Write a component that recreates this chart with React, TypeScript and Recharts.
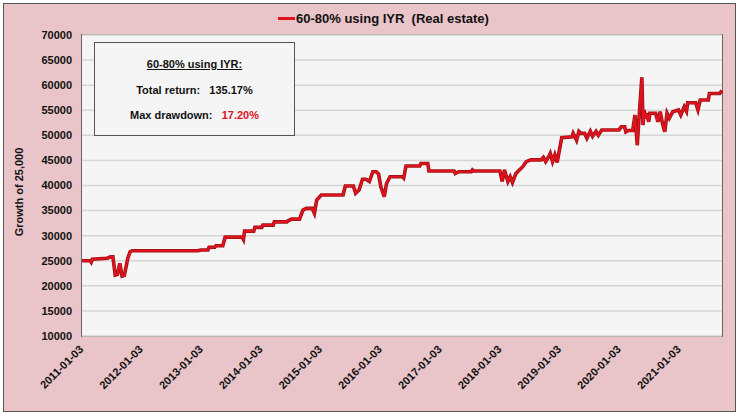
import React from 'react';
import { LineChart, Line, XAxis, YAxis, CartesianGrid } from 'recharts';

// weekly-ish closes
const dates = [
  '2011-01-03', '2011-02-21', '2011-02-28', '2011-03-07', '2011-06-06', '2011-06-27', '2011-07-11',
  '2011-07-25', '2011-08-08', '2011-08-22', '2011-09-05', '2011-09-19', '2011-10-10', '2011-10-24',
  '2011-11-07', '2012-12-10', '2012-12-31', '2013-02-11', '2013-02-18', '2013-03-25', '2013-04-01',
  '2013-05-13', '2013-05-27', '2013-09-09', '2013-09-16', '2013-09-23', '2013-11-18', '2013-11-25',
  '2014-01-06', '2014-01-13', '2014-03-17', '2014-03-24', '2014-06-09', '2014-06-16', '2014-07-07',
  '2014-08-25', '2014-09-15', '2014-10-06', '2014-11-10', '2014-11-24', '2014-12-08', '2015-01-05',
  '2015-05-18', '2015-06-01', '2015-07-20', '2015-08-03', '2015-08-24', '2015-09-14', '2015-10-05',
  '2015-10-26', '2015-11-16', '2015-12-07', '2015-12-21', '2016-01-04', '2016-01-25', '2016-02-08',
  '2016-02-29', '2016-05-16', '2016-05-23', '2016-06-06', '2016-08-29', '2016-09-05', '2016-10-17',
  '2016-10-24', '2017-03-27', '2017-04-03', '2017-04-24', '2017-07-10', '2017-07-17', '2017-07-24',
  '2018-01-01', '2018-01-15', '2018-01-29', '2018-02-19', '2018-03-05', '2018-03-19', '2018-04-09',
  '2018-04-30', '2018-05-21', '2018-06-11', '2018-07-09', '2018-09-10', '2018-09-24', '2018-10-08',
  '2018-10-29', '2018-11-05', '2018-11-19', '2018-12-03', '2018-12-17', '2019-01-14', '2019-03-18',
  '2019-03-25', '2019-04-15', '2019-04-29', '2019-05-13', '2019-06-03', '2019-06-17', '2019-07-08',
  '2019-07-22', '2019-08-12', '2019-08-26', '2019-09-16', '2019-12-30', '2020-01-13', '2020-02-03',
  '2020-02-10', '2020-02-24', '2020-03-23', '2020-04-06', '2020-04-20', '2020-04-27', '2020-05-18',
  '2020-05-25', '2020-06-01', '2020-06-08', '2020-06-15', '2020-06-29', '2020-07-06', '2020-08-10',
  '2020-08-24', '2020-09-07', '2020-09-21', '2020-10-05', '2020-10-19', '2020-11-02', '2020-11-23',
  '2020-12-28', '2021-01-11', '2021-02-01', '2021-02-15', '2021-02-22', '2021-04-12', '2021-04-26',
  '2021-05-10', '2021-06-28', '2021-07-05', '2021-09-06', '2021-09-20',
];

const growth = [
  25000, 25000, 24700, 25300, 25500, 25800, 25800,
  22150, 22300, 24500, 21950, 22100, 25500, 26800,
  27000, 27000, 27150, 27150, 27700, 27700, 28000,
  28000, 29700, 29700, 29250, 30900, 30900, 31650,
  31650, 32100, 32100, 32750, 32750, 32950, 33300,
  33300, 35100, 35450, 35450, 34450, 37100, 38100,
  38100, 39900, 39900, 38450, 39100, 41250, 41250,
  40800, 42750, 42750, 42300, 39750, 37750, 40400,
  41750, 41750, 41500, 43900, 43900, 44400, 44400,
  42900, 42900, 42400, 42750, 42750, 43100, 42900,
  42900, 40800, 43100, 40800, 41750, 40600, 42400,
  43100, 43750, 44750, 45100, 45100, 45600, 44750,
  45900, 46400, 44750, 46100, 44600, 49550, 49700,
  50400, 49000, 50800, 50400, 50400, 49400, 50800,
  49800, 50800, 50000, 51050, 51050, 51700, 51700,
  50700, 50950, 50950, 54050, 48050, 51700, 61550,
  52050, 55050, 53400, 54400, 52700, 54400, 54400,
  52700, 54700, 52400, 50700, 54400, 53400, 54700,
  55050, 54050, 55700, 54800, 56500, 56500, 55050,
  57050, 57050, 58350, 58350, 58900,
];

const xTickLabels = [
  '2011-01-03', '2012-01-03', '2013-01-03', '2014-01-03', '2015-01-03', '2016-01-03',
  '2017-01-03', '2018-01-03', '2019-01-03', '2020-01-03', '2021-01-03',
];
const yTicks = [10000, 15000, 20000, 25000, 30000, 35000, 40000, 45000, 50000, 55000, 60000, 65000, 70000];

const seriesName = '60-80% using IYR  (Real estate)';
const boxTitle = '60-80% using IYR:';
const totalReturn = '135.17%';
const maxDrawdown = '17.20%';

const FONT = '"Liberation Sans", Arial, sans-serif';
const PINK = '#e9c4c8';
const PLOT_BG = '#f5f5f5';
const RED = '#e0131c';

const data = dates.map((d, i) => ({ t: Date.parse(d), v: growth[i] }));
const xTicks = xTickLabels.map(d => Date.parse(d));

const XTick = ({ x, y, payload }: any) => {
  const i = xTicks.indexOf(payload.value);
  return (
    <g transform={`translate(${x + 2},${y + 12})`}>
      <text x={0} y={0} textAnchor="end" transform="rotate(-45)" fontSize={11} fontWeight="bold" fill="#111" fontFamily={FONT}>
        {xTickLabels[i]}
      </text>
    </g>
  );
};

export default function App() {
  return (
    <div style={{ position: 'absolute', left: 0, top: 0, width: 740, height: 416, background: '#fff', fontFamily: FONT }}>
      <div style={{ position: 'absolute', left: 3, top: 3, width: 731, height: 407, background: PINK, border: '1.5px solid #555' }} />
      {/* plot frame */}
      <div style={{ position: 'absolute', left: 81, top: 34, width: 640, height: 301, background: PLOT_BG, border: '1px solid #666' }} />

      {/* legend */}
      <div style={{ position: 'absolute', left: 278, top: 10, height: 16, display: 'flex', alignItems: 'center', whiteSpace: 'pre', fontSize: 13, fontWeight: 'bold', color: '#111' }}>
        <span style={{ display: 'inline-block', width: 17, height: 3, background: RED, marginRight: 1 }} />
        {seriesName}
      </div>

      <div style={{ position: 'absolute', left: 0, top: 0 }}>
        <LineChart width={740} height={416} data={data} margin={{ top: 35, right: 18, bottom: 10, left: 12 }}>
          <CartesianGrid vertical={false} stroke="#d6d6d6" strokeWidth={1.5} />
          <XAxis
            dataKey="t"
            type="number"
            scale="time"
            domain={[data[0].t, data[data.length - 1].t]}
            ticks={xTicks}
            tick={<XTick />}
            tickLine={false}
            axisLine={false}
            tickSize={0}
            height={70}
            interval={0}
          />
          <YAxis
            domain={[10000, 70000]}
            ticks={yTicks}
            width={70}
            tickLine={false}
            axisLine={false}
            tickMargin={4}
            interval={0}
            tick={{ fontSize: 11, fontWeight: 'bold', fill: '#111', fontFamily: FONT }}
            label={() => (
              <text x={23} y={192} transform="rotate(-90 23 192)" textAnchor="middle" fontSize={11} fontWeight="bold" fill="#111" fontFamily={FONT}>
                Growth of 25,000
              </text>
            )}
          />
          <Line dataKey="v" type="linear" stroke="#9a1016" strokeWidth={3.6} dot={false} isAnimationActive={false} />
          <Line dataKey="v" type="linear" stroke={RED} strokeWidth={2.1} dot={false} isAnimationActive={false} />
        </LineChart>
      </div>

      {/* stats box */}
      <div style={{ position: 'absolute', left: 94, top: 42, width: 199, height: 92, background: PLOT_BG, border: '1.5px solid #555', fontSize: 11, fontWeight: 'bold', color: '#111', textAlign: 'center', whiteSpace: 'pre' }}>
        <div style={{ position: 'absolute', top: 15, width: '100%', textDecoration: 'underline' }}>{boxTitle}</div>
        <div style={{ position: 'absolute', top: 41, width: '100%' }}>{'Total return:   ' + totalReturn}</div>
        <div style={{ position: 'absolute', top: 66, width: '100%' }}>
          {'Max drawdown:   '}<span style={{ color: RED }}>{maxDrawdown}</span>
        </div>
      </div>
    </div>
  );
}
